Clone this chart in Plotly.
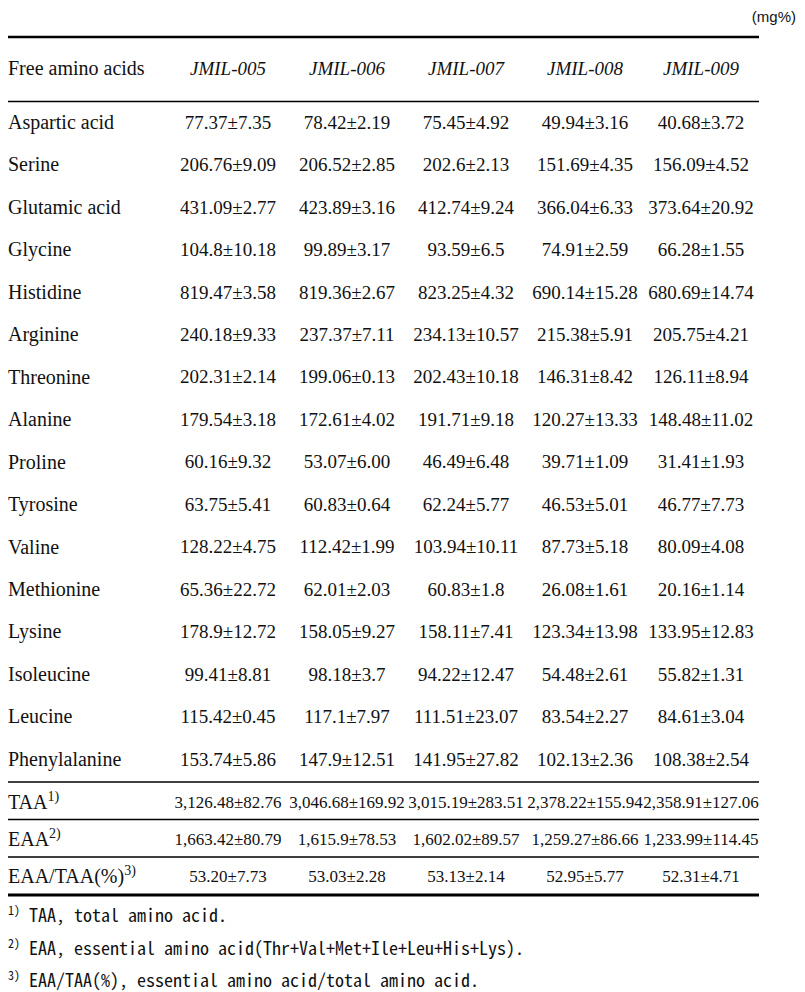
import plotly.graph_objects as go

# table content
samples = ['JMIL-005', 'JMIL-006', 'JMIL-007', 'JMIL-008', 'JMIL-009']
amino_acids = ['Aspartic acid', 'Serine', 'Glutamic acid', 'Glycine', 'Histidine',
               'Arginine', 'Threonine', 'Alanine', 'Proline', 'Tyrosine', 'Valine',
               'Methionine', 'Lysine', 'Isoleucine', 'Leucine', 'Phenylalanine']

jmil_005 = ['77.37±7.35', '206.76±9.09', '431.09±2.77', '104.8±10.18', '819.47±3.58',
            '240.18±9.33', '202.31±2.14', '179.54±3.18', '60.16±9.32', '63.75±5.41',
            '128.22±4.75', '65.36±22.72', '178.9±12.72', '99.41±8.81', '115.42±0.45',
            '153.74±5.86']
jmil_006 = ['78.42±2.19', '206.52±2.85', '423.89±3.16', '99.89±3.17', '819.36±2.67',
            '237.37±7.11', '199.06±0.13', '172.61±4.02', '53.07±6.00', '60.83±0.64',
            '112.42±1.99', '62.01±2.03', '158.05±9.27', '98.18±3.7', '117.1±7.97',
            '147.9±12.51']
jmil_007 = ['75.45±4.92', '202.6±2.13', '412.74±9.24', '93.59±6.5', '823.25±4.32',
            '234.13±10.57', '202.43±10.18', '191.71±9.18', '46.49±6.48', '62.24±5.77',
            '103.94±10.11', '60.83±1.8', '158.11±7.41', '94.22±12.47', '111.51±23.07',
            '141.95±27.82']
jmil_008 = ['49.94±3.16', '151.69±4.35', '366.04±6.33', '74.91±2.59', '690.14±15.28',
            '215.38±5.91', '146.31±8.42', '120.27±13.33', '39.71±1.09', '46.53±5.01',
            '87.73±5.18', '26.08±1.61', '123.34±13.98', '54.48±2.61', '83.54±2.27',
            '102.13±2.36']
jmil_009 = ['40.68±3.72', '156.09±4.52', '373.64±20.92', '66.28±1.55', '680.69±14.74',
            '205.75±4.21', '126.11±8.94', '148.48±11.02', '31.41±1.93', '46.77±7.73',
            '80.09±4.08', '20.16±1.14', '133.95±12.83', '55.82±1.31', '84.61±3.04',
            '108.38±2.54']

summary_labels = ['TAA<sup>1)</sup>', 'EAA<sup>2)</sup>', 'EAA/TAA(%)<sup>3)</sup>']
summary_values = [
    ['3,126.48±82.76', '1,663.42±80.79', '53.20±7.73'],
    ['3,046.68±169.92', '1,615.9±78.53', '53.03±2.28'],
    ['3,015.19±283.51', '1,602.02±89.57', '53.13±2.14'],
    ['2,378.22±155.94', '1,259.27±86.66', '52.95±5.77'],
    ['2,358.91±127.06', '1,233.99±114.45', '52.31±4.71'],
]

footnote_marks = ['1)', '2)', '3)']
footnotes = ['TAA, total amino acid.',
             'EAA, essential amino acid(Thr+Val+Met+Ile+Leu+His+Lys).',
             'EAA/TAA(%), essential amino acid/total amino acid.']
unit_label = '(mg%)'

# page body has an 8px margin, so the axes start at pixel 8 (and stop 8px early)
W, H = 805, 992
OFF = 8
SERIF = 'Liberation Serif, Times New Roman, serif'
MONO = 'Noto Sans Mono CJK KR, Liberation Mono, monospace'
NARROW = 'Liberation Sans Narrow, Arial Narrow, Liberation Sans, sans-serif'
col_x = [228, 347, 466, 585, 701]
label_x = 8

header_y = 70
body_y = [124 + i * 42.45 for i in range(len(amino_acids))]
sum_y = [804, 841, 878]
note_y = [917, 950, 982]

fig = go.Figure()

# first column: labels
fig.add_trace(go.Scatter(
    x=[label_x] * (1 + len(amino_acids) + len(summary_labels)),
    y=[header_y] + body_y + sum_y,
    text=['Free amino acids'] + amino_acids + summary_labels,
    mode='text', textposition='middle right', cliponaxis=False,
    textfont=dict(family=SERIF, size=20, color='#111'),
    hoverinfo='skip'
))

# header of sample columns
fig.add_trace(go.Scatter(
    x=col_x, y=[header_y] * len(samples),
    text=['<i>%s</i>' % s for s in samples],
    mode='text', textposition='middle center', cliponaxis=False,
    textfont=dict(family=SERIF, size=19, color='#111'),
    hoverinfo='skip'
))

# value columns
for i, vals in enumerate([jmil_005, jmil_006, jmil_007, jmil_008, jmil_009]):
    fig.add_trace(go.Scatter(
        x=[col_x[i]] * len(vals), y=body_y, text=vals,
        mode='text', textposition='middle center', cliponaxis=False,
        textfont=dict(family=SERIF, size=19, color='#111'),
        hoverinfo='skip'
    ))
    fig.add_trace(go.Scatter(
        x=[col_x[i]] * 3, y=sum_y, text=summary_values[i],
        mode='text', textposition='middle center', cliponaxis=False,
        textfont=dict(family=SERIF, size=17, color='#111'),
        hoverinfo='skip'
    ))

# footnotes
fig.add_trace(go.Scatter(
    x=[label_x] * 3, y=[y - 5 for y in note_y],
    text=footnote_marks, mode='text', textposition='middle right', cliponaxis=False,
    textfont=dict(family=MONO, size=12, color='#111'), hoverinfo='skip'
))
fig.add_trace(go.Scatter(
    x=[29] * 3, y=note_y,
    text=footnotes, mode='text', textposition='middle right', cliponaxis=False,
    textfont=dict(family=MONO, size=18, color='#111'), hoverinfo='skip'
))
fig.add_trace(go.Scatter(
    x=[796], y=[18], text=[unit_label], mode='text', textposition='middle left',
    cliponaxis=False,
    textfont=dict(family=NARROW, size=15, color='#111'), hoverinfo='skip'
))

# horizontal rules
for y, w in [(37, 2.6), (101.5, 1.3), (782, 1.3), (819.5, 1.3), (857, 1.3), (895, 2.8)]:
    fig.add_shape(type='line', x0=OFF, x1=759, y0=y, y1=y,
                  line=dict(color='black', width=w))

fig.update_xaxes(range=[OFF, W - OFF], visible=False, fixedrange=True)
fig.update_yaxes(range=[H, OFF], visible=False, fixedrange=True)
fig.update_layout(
    width=W - 2 * OFF, height=H - OFF,
    margin=dict(l=0, r=0, t=0, b=0),
    paper_bgcolor='white', plot_bgcolor='white',
    showlegend=False
)

fig.write_html("out.html")
